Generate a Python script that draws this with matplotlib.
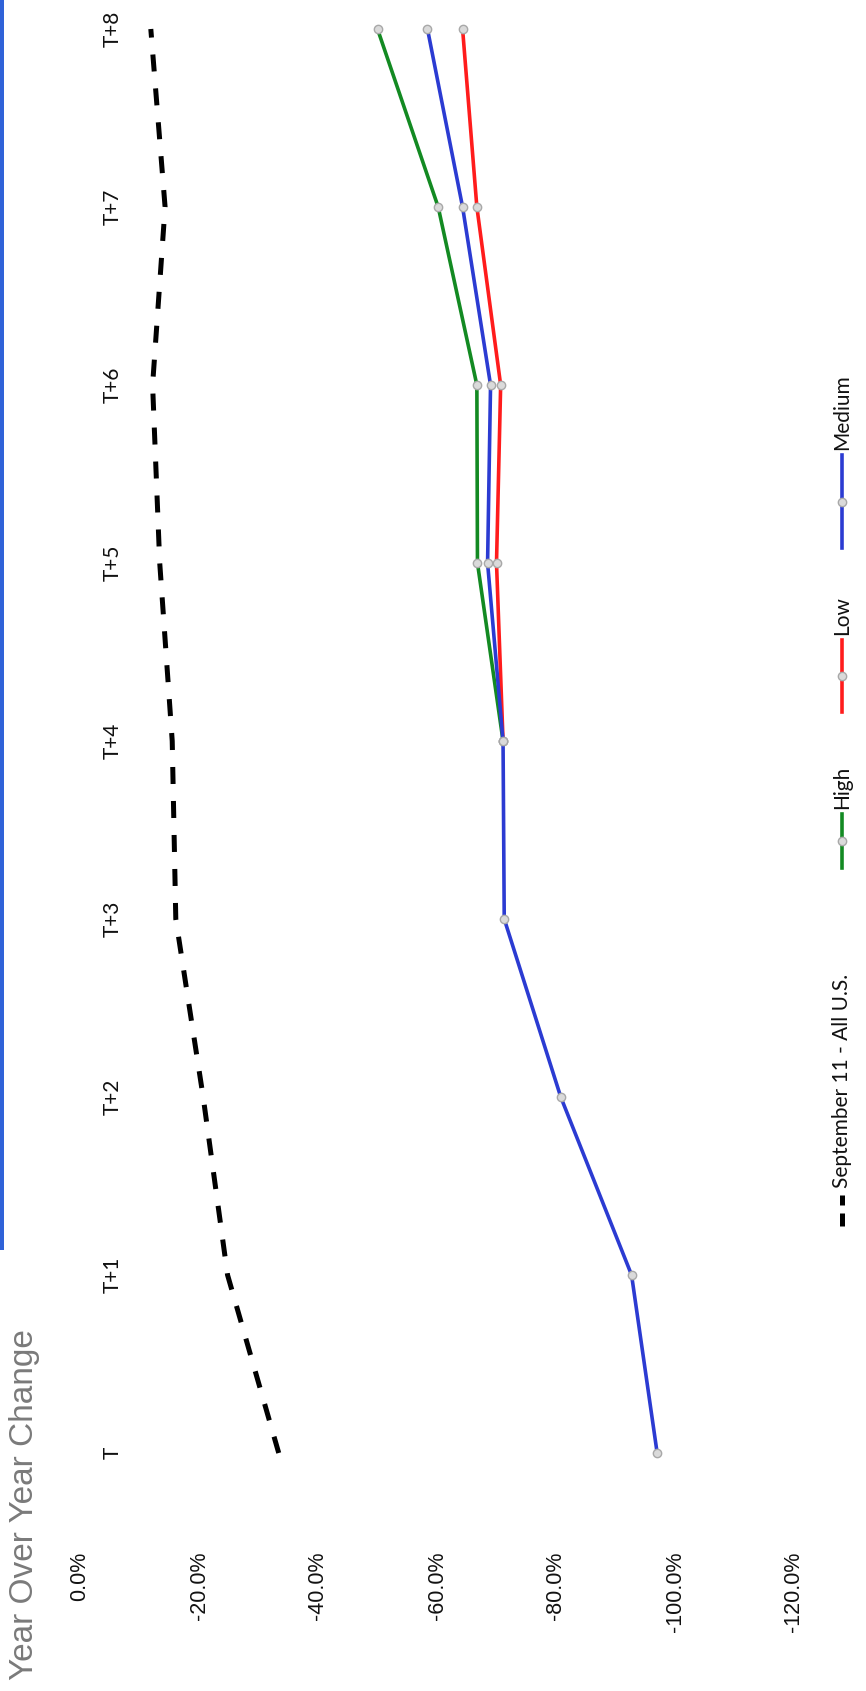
import numpy as np
import matplotlib
matplotlib.use("Agg")
import matplotlib.pyplot as plt
from matplotlib.lines import Line2D
from matplotlib.patches import Rectangle

# ---------------- data ----------------
periods = ["T", "T+1", "T+2", "T+3", "T+4", "T+5", "T+6", "T+7", "T+8"]
sept11 = [-33.4, -24.8, -20.7, -16.1, -15.5, -13.4, -12.2, -14.3, -11.9]
high = [np.nan, np.nan, np.nan, np.nan, -71.1, -66.8, -66.7, -60.2, -50.0]
low = [np.nan, np.nan, np.nan, np.nan, -71.1, -70.0, -70.7, -66.7, -64.3]
medium = [-97.0, -92.7, -80.8, -71.3, -71.1, -68.5, -69.0, -64.3, -58.4]
value_ticks = [0, -20, -40, -60, -80, -100, -120]
value_labels = ["0.0%", "-20.0%", "-40.0%", "-60.0%", "-80.0%", "-100.0%", "-120.0%"]
title = "Year Over Year Change"
legend_labels = ["September 11 - All U.S.", "High", "Low", "Medium"]

# ---------------- styling ----------------
W, H = 866, 1691
GREEN = "#138a22"
RED = "#ff1c1c"
BLUE = "#2b3bd2"
MFC = "#dadada"
MEC = "#a8a8a8"
VAL_FONT = ["Liberation Sans Narrow", "Liberation Sans", "DejaVu Sans"]
CAT_FONT = ["Lato", "DejaVu Sans"]

fig = plt.figure(figsize=(W / 100, H / 100), dpi=100)
fig.patch.set_facecolor("white")

# axes: value axis horizontal (0 at left, -120 at right), periods vertical (T at bottom)
ax = fig.add_axes([80 / W, 211.3 / H, 714 / W, 1477.4 / H])
ax.set_xlim(0, -120)
ax.set_ylim(-0.15, 8.15)
for s in ax.spines.values():
    s.set_visible(False)
ax.patch.set_alpha(0)

idx = np.arange(len(periods))
ax.plot(sept11, idx, color="black", lw=3.6, linestyle=(0, (3.4, 3.4)),
        dash_capstyle="butt", zorder=2, clip_on=False)
mk = dict(marker="o", markersize=6, markerfacecolor=MFC, markeredgecolor=MEC,
          markeredgewidth=1.0, lw=2.6, clip_on=False)
ax.plot(high, idx, color=GREEN, zorder=3, **mk)
ax.plot(low, idx, color=RED, zorder=4, **mk)
ax.plot(medium, idx, color=BLUE, zorder=5, **mk)

# value tick labels (rotated)
ax.set_xticks(value_ticks)
ax.set_xticklabels(value_labels, rotation=90, fontsize=15.5, family=VAL_FONT, color="#111111")
ax.tick_params(axis="x", length=0, pad=52)

# period labels (rotated)
ax.set_yticks(idx)
ax.set_yticklabels(periods, rotation=90, fontsize=15, family=CAT_FONT, color="#111111")
for lab in ax.get_yticklabels():
    lab.set_ha("center")
    lab.set_va("center")
ax.tick_params(axis="y", length=0, pad=-23.8)

# title
fig.text(25 / W, 1 - 1680 / H, title, rotation=90, ha="center", va="bottom",
         fontsize=24, family=["Liberation Sans", "DejaVu Sans"], color="#7a7a7a")

# blue strip at left edge
fig.add_artist(Rectangle((0, 1 - 1250 / H), 4 / W, 1250 / H, transform=fig.transFigure,
                         facecolor="#2f62d8", edgecolor="none"))

# legend (rotated, drawn manually)
LX = 842 / W
def fy(y):
    return 1 - y / H

# September 11 handle
fig.add_artist(Line2D([LX, LX], [fy(1226), fy(1195)], transform=fig.transFigure,
                      color="black", lw=3.6, linestyle=(0, (2.6, 1.6)), dash_capstyle="butt"))
fig.text(LX, fy(1188), legend_labels[0], rotation=90, ha="center", va="bottom",
         fontsize=15, family=CAT_FONT, color="#111111")

for lab, col, y0, y1 in [(legend_labels[1], GREEN, 868, 814), (legend_labels[2], RED, 712, 640),
                         (legend_labels[3], BLUE, 548, 455)]:
    fig.add_artist(Line2D([LX, LX], [fy(y0), fy(y1)], transform=fig.transFigure,
                          color=col, lw=2.6))
    fig.add_artist(Line2D([LX], [fy((y0 + y1) / 2)], transform=fig.transFigure, marker="o",
                          markersize=6, markerfacecolor=MFC, markeredgecolor=MEC,
                          markeredgewidth=1.0, lw=0))
    fig.text(LX, fy(y1 - 5), lab, rotation=90, ha="center", va="bottom",
             fontsize=15, family=CAT_FONT, color="#111111")

fig.savefig("out.png", dpi=100, facecolor="white")
